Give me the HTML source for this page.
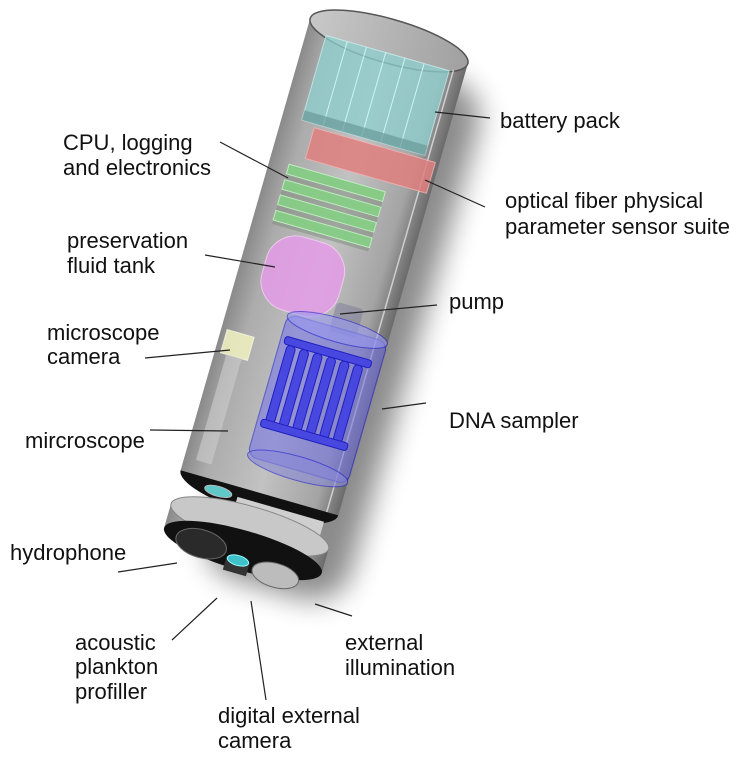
<!DOCTYPE html>
<html><head><style>
html,body{margin:0;padding:0;background:#fff;}
svg{display:block;}
text{font-family:"Liberation Sans",Arial,sans-serif;font-size:22px;fill:#111;}
</style></head><body>
<svg width="750" height="764" viewBox="0 0 750 764" xmlns="http://www.w3.org/2000/svg">
<defs>
<linearGradient id="body" x1="0" x2="1" y1="0" y2="0">
<stop offset="0" stop-color="#8a8a8a"/><stop offset="0.15" stop-color="#acacac"/>
<stop offset="0.5" stop-color="#c2c2c2"/><stop offset="0.85" stop-color="#a4a4a4"/>
<stop offset="1" stop-color="#6a6a6a"/></linearGradient>
<linearGradient id="inner" x1="0" x2="1"><stop offset="0" stop-color="#c8c8c8"/><stop offset="1" stop-color="#a0a0a0"/></linearGradient>
<filter id="blur" x="-50%" y="-50%" width="200%" height="200%"><feGaussianBlur stdDeviation="14"/></filter>
</defs>
<g transform="translate(389,41) rotate(16)">
 <rect x="-40" y="20" width="150" height="540" rx="40" fill="#000" opacity="0.45" filter="url(#blur)"/>
 <rect x="-82" y="0" width="164" height="470" fill="url(#body)"/>
 <ellipse cx="0" cy="0" rx="82" ry="22" fill="url(#inner)" stroke="#555" stroke-width="1.5"/>
 <line x1="70" y1="10" x2="70" y2="470" stroke="#eee" stroke-width="1.5" opacity="0.7"/>
 <!-- battery -->
 <rect x="-62" y="12" width="128" height="88" fill="#8fd0d0" opacity="0.75" stroke="#c8f4f4"/>
 <g stroke="#d8ffff" stroke-width="1" opacity="0.8">
  <line x1="-40" y1="12" x2="-40" y2="100"/><line x1="-20" y1="12" x2="-20" y2="100"/><line x1="0" y1="12" x2="0" y2="100"/>
  <line x1="20" y1="12" x2="20" y2="100"/><line x1="40" y1="12" x2="40" y2="100"/></g>
 <rect x="-62" y="90" width="128" height="10" fill="#6a9a9a" opacity="0.7"/>
 <!-- red sensor -->
 <rect x="-48" y="104" width="126" height="32" fill="#e07f7f" opacity="0.85" stroke="#f2b0b0"/>
 <!-- green boards -->
 <rect x="-62" y="146" width="100" height="62" fill="#7a8a7a" opacity="0.5"/>
 <g fill="#86d086" opacity="0.9" stroke="#c4f2c4">
  <rect x="-62" y="146" width="100" height="10"/><rect x="-62" y="162" width="100" height="10"/>
  <rect x="-62" y="178" width="100" height="10"/><rect x="-62" y="194" width="100" height="10"/>
 </g>
 <!-- pink tank -->
 <rect x="-58" y="212" width="80" height="76" rx="30" fill="#e49ce8" opacity="0.85" stroke="#f6d0f6"/>
 <rect x="22" y="265" width="28" height="30" rx="4" fill="#7a7a9a" opacity="0.5"/>
 <!-- DNA sampler -->
 <rect x="-22" y="290" width="104" height="148" rx="10" fill="#7070e8" opacity="0.55" stroke="#2020d0" stroke-width="1.2"/>
 <ellipse cx="30" cy="292" rx="52" ry="12" fill="#9a9af0" opacity="0.6" stroke="#2020d0"/>
 <ellipse cx="30" cy="436" rx="52" ry="12" fill="#8a8ad8" opacity="0.6" stroke="#2020d0"/>
 <g fill="#4848e0" stroke="#2020c0" stroke-width="1">
  <rect x="-14" y="320" width="9" height="80" rx="4"/><rect x="0" y="320" width="9" height="80" rx="4"/>
  <rect x="14" y="320" width="9" height="80" rx="4"/><rect x="28" y="320" width="9" height="80" rx="4"/>
  <rect x="42" y="320" width="9" height="80" rx="4"/><rect x="56" y="320" width="9" height="80" rx="4"/>
  <rect x="-18" y="312" width="90" height="8" rx="3"/><rect x="-18" y="398" width="90" height="8" rx="3"/>
 </g>
 <!-- microscope -->
 <rect x="-76" y="322" width="28" height="24" fill="#eeeec0" opacity="0.9" stroke="#f8f8e0"/>
 <rect x="-70" y="346" width="16" height="110" fill="#c8c8c8" opacity="0.7"/>
 <path d="M-82 470 A82 22 0 0 0 82 470 Z" fill="#111"/>
 <ellipse cx="-40" cy="480" rx="14" ry="5" fill="#60c8c8" stroke="#bbb"/>
 <rect x="-20" y="480" width="90" height="28" fill="#cfcfcf"/>
 <rect x="-82" y="505" width="164" height="25" fill="url(#body)"/>
 <ellipse cx="0" cy="505" rx="82" ry="20" fill="#c8c8c8" stroke="#888"/>
 <ellipse cx="0" cy="530" rx="82" ry="20" fill="#111"/>
 <ellipse cx="-42" cy="535" rx="26" ry="14" fill="#2a2a2a" stroke="#666"/>
 <ellipse cx="38" cy="545" rx="24" ry="12" fill="#bcbcbc" stroke="#666"/>
 <rect x="-14" y="540" width="24" height="14" fill="#333"/>
 <ellipse cx="-2" cy="541" rx="11" ry="5" fill="#40c0c8" stroke="#9ff"/>
</g>
<g stroke="#222" stroke-width="1.2">
 <line x1="435" y1="112" x2="490" y2="118"/>
 <line x1="220" y1="142" x2="288" y2="178"/>
 <line x1="425" y1="180" x2="485" y2="207"/>
 <line x1="205" y1="255" x2="275" y2="267"/>
 <line x1="340" y1="314" x2="437" y2="305"/>
 <line x1="145" y1="358" x2="230" y2="350"/>
 <line x1="382" y1="409" x2="426" y2="403"/>
 <line x1="150" y1="430" x2="228" y2="431"/>
 <line x1="118" y1="572" x2="177" y2="563"/>
 <line x1="172" y1="640" x2="217" y2="598"/>
 <line x1="251" y1="601" x2="266" y2="700"/>
 <line x1="315" y1="604" x2="352" y2="616"/>
</g>
<text x="500" y="128">battery pack</text>
<text x="63" y="150">CPU, logging</text>
<text x="63" y="175">and electronics</text>
<text x="505" y="208">optical fiber physical</text>
<text x="505" y="234">parameter sensor suite</text>
<text x="67" y="248">preservation</text>
<text x="67" y="273">fluid tank</text>
<text x="449" y="309">pump</text>
<text x="47" y="340">microscope</text>
<text x="47" y="364">camera</text>
<text x="449" y="428">DNA sampler</text>
<text x="25" y="448">mircroscope</text>
<text x="10" y="560">hydrophone</text>
<text x="75" y="650">acoustic</text>
<text x="75" y="674">plankton</text>
<text x="75" y="699">profiller</text>
<text x="345" y="650">external</text>
<text x="345" y="675">illumination</text>
<text x="218" y="723">digital external</text>
<text x="218" y="748">camera</text>
</svg>
</body></html>
